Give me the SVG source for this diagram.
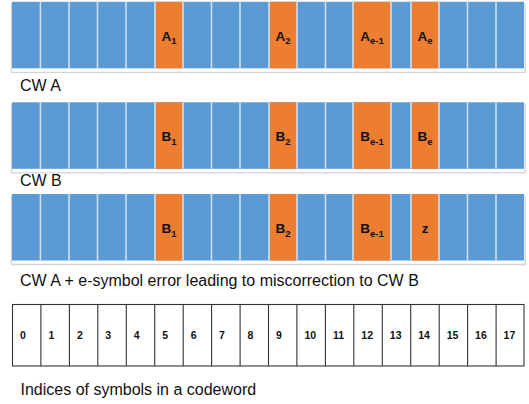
<svg xmlns="http://www.w3.org/2000/svg" width="529" height="404" viewBox="0 0 529 404">
<style>
.bg{fill:#ffffff}
.blue{fill:#5B9BD5}
.or{fill:#ED7D31}
.sep{stroke:#d3e3f3;stroke-width:1.5;fill:none}
.shadow{stroke:#d4d4d4;stroke-width:1.3;fill:none}
.lbl{font-family:"Liberation Sans",Arial,sans-serif;font-size:13.5px;font-weight:bold;fill:#111;text-anchor:middle}
.sub{font-size:9.5px}
.cap{font-family:"Liberation Sans",Arial,sans-serif;font-size:16px;fill:#111}
.idx{font-family:"Liberation Sans",Arial,sans-serif;font-size:10.5px;font-weight:bold;fill:#111}
.grid{stroke:#333333;stroke-width:1.1;fill:none}
</style>
<defs>
<g id="rowbase">
<path class="shadow" d="M11.5,1.5 V70.5 H525.2 V1.5"/>
<rect class="blue" x="12" y="0" width="512" height="66.5"/>
<rect class="or" x="155" y="0" width="28" height="66.5"/>
<rect class="or" x="269" y="0" width="28" height="66.5"/>
<rect class="or" x="353" y="0" width="38" height="66.5"/>
<rect class="or" x="411" y="0" width="28" height="66.5"/>
<path class="sep" d="M40.4,0v66.5M69,0v66.5M97.5,0v66.5M126,0v66.5M155,0v66.5M183,0v66.5M211.5,0v66.5M240,0v66.5M269,0v66.5M297,0v66.5M325.5,0v66.5M353,0v66.5M391,0v66.5M411,0v66.5M439,0v66.5M467.5,0v66.5M496,0v66.5"/>
</g>
</defs>
<rect class="bg" x="0" y="0" width="529" height="404"/>

<g id="cwA">
<use href="#rowbase" x="0" y="1.8"/>
<text class="lbl" x="169" y="40.5">A<tspan class="sub" dy="3.5">1</tspan></text>
<text class="lbl" x="283" y="40.5">A<tspan class="sub" dy="3.5">2</tspan></text>
<text class="lbl" x="372" y="40.5">A<tspan class="sub" dy="3.5">e-1</tspan></text>
<text class="lbl" x="425" y="40.5">A<tspan class="sub" dy="3.5">e</tspan></text>
<text class="cap" x="20" y="91">CW A</text>
</g>

<g id="cwB">
<use href="#rowbase" x="0" y="102.3"/>
<text class="lbl" x="169" y="141">B<tspan class="sub" dy="3.5">1</tspan></text>
<text class="lbl" x="283" y="141">B<tspan class="sub" dy="3.5">2</tspan></text>
<text class="lbl" x="372" y="141">B<tspan class="sub" dy="3.5">e-1</tspan></text>
<text class="lbl" x="425" y="141">B<tspan class="sub" dy="3.5">e</tspan></text>
<text class="cap" x="20" y="186">CW B</text>
</g>

<g id="cwErr">
<use href="#rowbase" x="0" y="194"/>
<text class="lbl" x="169" y="233">B<tspan class="sub" dy="3.5">1</tspan></text>
<text class="lbl" x="283" y="233">B<tspan class="sub" dy="3.5">2</tspan></text>
<text class="lbl" x="372" y="233">B<tspan class="sub" dy="3.5">e-1</tspan></text>
<text class="lbl" x="425" y="233">z</text>
<text class="cap" x="20" y="286">CW A + e-symbol error leading to miscorrection to CW B</text>
</g>

<g id="indices">
<rect class="grid" x="12.5" y="304.5" width="511.5" height="61.5"/>
<path class="grid" d="M40.9,304.5v61.5M69.4,304.5v61.5M97.8,304.5v61.5M126.3,304.5v61.5M154.7,304.5v61.5M183.2,304.5v61.5M211.6,304.5v61.5M240.1,304.5v61.5M268.5,304.5v61.5M296.9,304.5v61.5M325.4,304.5v61.5M353.8,304.5v61.5M382.3,304.5v61.5M410.7,304.5v61.5M439.2,304.5v61.5M467.6,304.5v61.5M496.1,304.5v61.5"/>
<text class="idx" x="20" y="338.5">0</text>
<text class="idx" x="48.4" y="338.5">1</text>
<text class="idx" x="76.9" y="338.5">2</text>
<text class="idx" x="105.3" y="338.5">3</text>
<text class="idx" x="133.8" y="338.5">4</text>
<text class="idx" x="162.2" y="338.5">5</text>
<text class="idx" x="190.7" y="338.5">6</text>
<text class="idx" x="219.1" y="338.5">7</text>
<text class="idx" x="247.6" y="338.5">8</text>
<text class="idx" x="276" y="338.5">9</text>
<text class="idx" x="304.4" y="338.5">10</text>
<text class="idx" x="332.9" y="338.5">11</text>
<text class="idx" x="361.3" y="338.5">12</text>
<text class="idx" x="389.8" y="338.5">13</text>
<text class="idx" x="418.2" y="338.5">14</text>
<text class="idx" x="446.7" y="338.5">15</text>
<text class="idx" x="475.1" y="338.5">16</text>
<text class="idx" x="503.6" y="338.5">17</text>
<text class="cap" x="20.5" y="395">Indices of symbols in a codeword</text>
</g>
</svg>
